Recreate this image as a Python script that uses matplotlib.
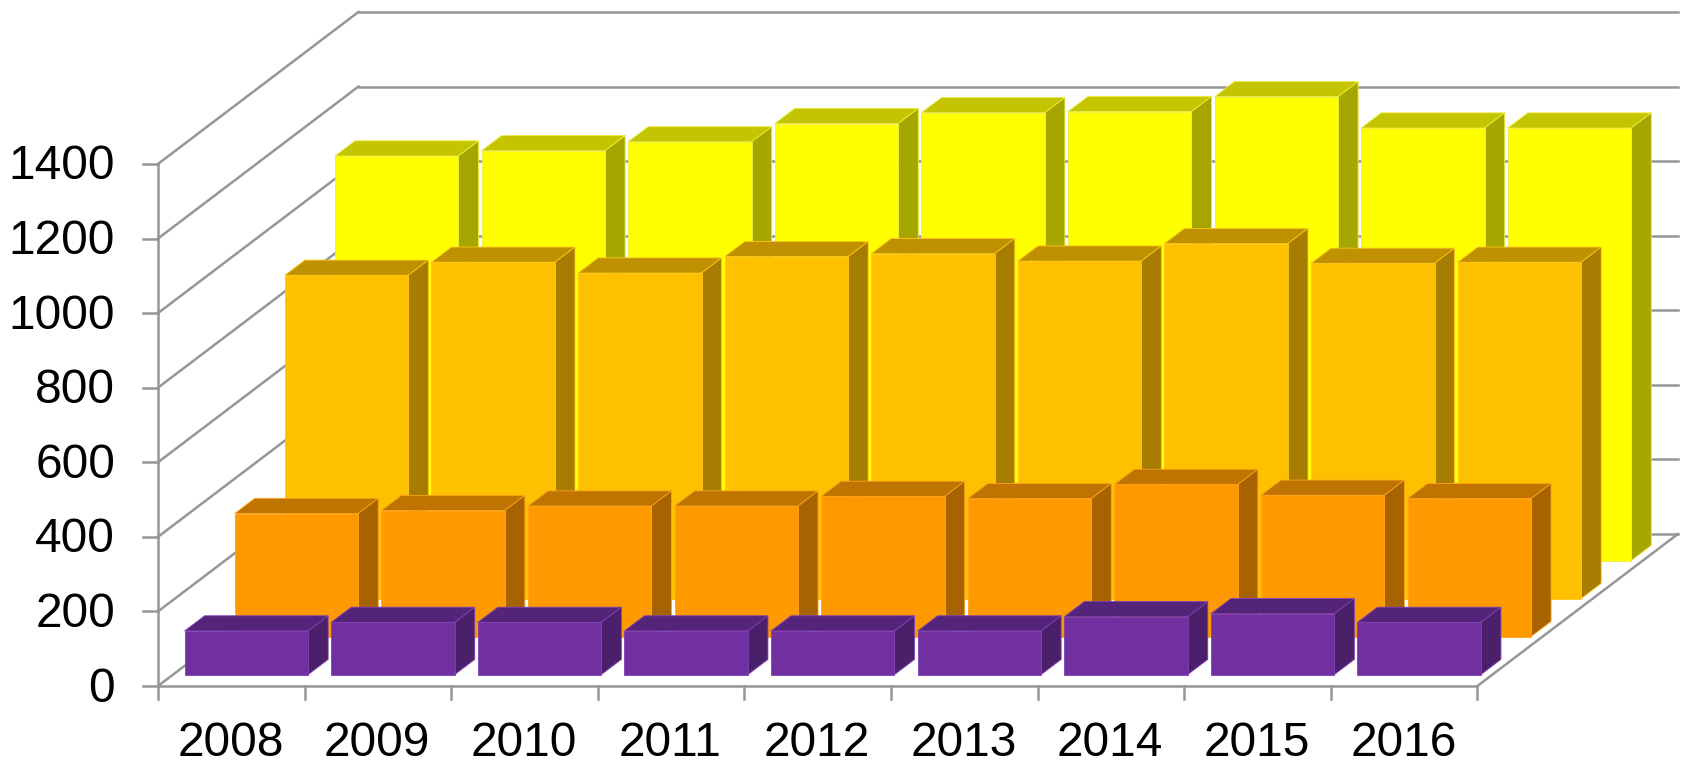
import matplotlib
matplotlib.use("Agg")
import matplotlib.pyplot as plt

plt.rcParams['font.family'] = ['Liberation Sans', 'DejaVu Sans']

years = ['2008', '2009', '2010', '2011', '2012', '2013', '2014', '2015', '2016']
y_ticks = [0, 200, 400, 600, 800, 1000, 1200, 1400]

purple = [117, 140, 140, 117, 117, 117, 155, 163, 140]
orange = [330, 338, 350, 350, 376, 370, 408, 379, 370]
amber = [867, 902, 873, 917, 925, 905, 952, 899, 902]
yellow = [1085, 1099, 1123, 1172, 1201, 1204, 1244, 1160, 1160]

# front to back
series = [purple, orange, amber, yellow]
front_colors = ['#7030A0', '#FF9900', '#FFC000', '#FFFF00']
side_colors = ['#4A206B', '#A66300', '#A67D00', '#A6A600']
top_colors = ['#54247A', '#BF7300', '#BF9000', '#C4C400']
edge_colors = ['#8040B8', '#FFA31A', '#FFC61A', '#EDED40']

W, H = 1686, 765
PX_X = 146.6      # pixels per category
PX_Y = 0.3729     # pixels per value unit
X0, Y0 = 158.0, 686.0
DEPTH_X = 200.5 / PX_X   # full depth, in category units
DEPTH_Y = 152.0 / PX_Y   # full depth, in value units
BAR_W = 123.5 / PX_X
GRID = '#969696'
LW = 1.8
FONT = 34.5

fig = plt.figure(figsize=(W / 100, H / 100), dpi=100, facecolor='white')
x_right = 1679.0
y_top = 11.5
ax = fig.add_axes([X0 / W, 1 - Y0 / H, (x_right - X0) / W, (Y0 - y_top) / H])
ax.set_xlim(0, (x_right - X0) / PX_X)
ax.set_ylim(0, (Y0 - y_top) / PX_Y)
ax.axis('off')


def proj(x, depth, val):
    return x + depth * DEPTH_X, val + depth * DEPTH_Y


def line(p, q):
    ax.plot([p[0], q[0]], [p[1], q[1]], color=GRID, lw=LW, clip_on=False,
            solid_capstyle='projecting', zorder=0.5)


n = len(years)
# walls: gridlines
for v in y_ticks:
    line(proj(0, 0, v), proj(0, 1, v))
    line(proj(0, 1, v), proj(n, 1, v))
# floor
line(proj(n, 0, 0), proj(n, 1, 0))
line(proj(0, 0, 0), proj(n, 0, 0))
# axis + ticks
line(proj(0, 0, 0), proj(0, 0, y_ticks[-1]))
tick_x = 15 / PX_X
tick_y = 13 / PX_Y
for v in y_ticks:
    line((-tick_x, v), (0, v))
    ax.text(-43 / PX_X, v - 3 / PX_Y, str(v), ha='right', va='center', fontsize=FONT,
            color='black', clip_on=False)
for i in range(n + 1):
    line((i, 0), (i, -tick_y))
for i, lab in enumerate(years):
    ax.text(i + 0.495, -57 / PX_Y, lab, ha='center', va='center', fontsize=FONT,
            color='black', clip_on=False)


def bar(cx, idx, val, front, side, top, edge):
    d0 = (idx + 0.3) / len(series)
    d1 = (idx + 0.7) / len(series)
    x0 = cx - BAR_W / 2
    x1 = cx + BAR_W / 2
    # heights rise from the floor at the bar's own depth
    faces = [
        ([proj(x0, d0, val), proj(x1, d0, val), proj(x1, d1, val), proj(x0, d1, val)], top),
        ([proj(x1, d0, 0), proj(x1, d1, 0), proj(x1, d1, val), proj(x1, d0, val)], side),
        ([proj(x0, d0, 0), proj(x1, d0, 0), proj(x1, d0, val), proj(x0, d0, val)], front),
    ]
    for pts, col in faces:
        xs, ys = zip(*pts)
        ax.fill(xs, ys, facecolor=col, edgecolor=edge, lw=0.6, clip_on=False,
                joinstyle='round')


for idx in range(len(series) - 1, -1, -1):
    for i, val in enumerate(series[idx]):
        bar(i + 0.5, idx, val, front_colors[idx], side_colors[idx],
            top_colors[idx], edge_colors[idx])

fig.savefig('out.png', dpi=100, facecolor='white')
